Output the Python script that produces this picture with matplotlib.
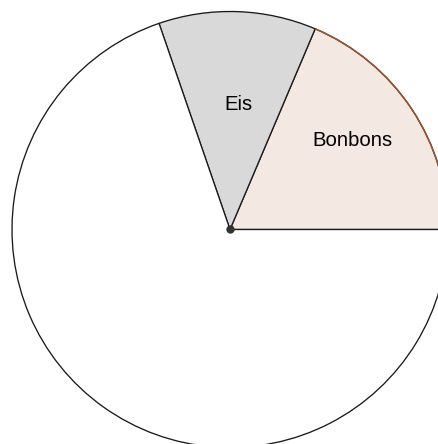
import matplotlib.pyplot as plt
from matplotlib.patches import Arc

# slice sizes in degrees
labels = ["Bonbons", "Eis", ""]
sizes = [67, 42, 251]
fill_colors = ["#f4e8e3", "#d9d9d9", "white"]

W, H = 438, 444
CX, CY = 230, 444 - 229.5
R = 218

fig = plt.figure(figsize=(W / 100, H / 100), dpi=100)
ax = fig.add_axes([0, 0, 1, 1])

wedges, _ = ax.pie(sizes, colors=fill_colors, startangle=0, counterclock=True,
                   center=(CX, CY), radius=R,
                   wedgeprops=dict(edgecolor="#1a1a1a", linewidth=0.95))

# brown arc on the Bonbons slice
bon = wedges[0]
ax.add_patch(Arc((CX, CY), 2 * R, 2 * R, theta1=bon.theta1, theta2=bon.theta2,
                 color="#a0522d", linewidth=1.1, zorder=5))

ax.plot([CX], [CY], "o", color="#333333", markersize=5, zorder=6)

ax.text(238, H - 104, labels[1], ha="center", va="center", fontsize=14.6,
        family="Liberation Sans", color="#000000")
ax.text(352, H - 140, labels[0], ha="center", va="center", fontsize=14.6,
        family="Liberation Sans", color="#000000")

ax.set_xlim(0, W)
ax.set_ylim(0, H)
ax.set_aspect("equal")
ax.axis("off")

fig.savefig("out.png", dpi=100)
